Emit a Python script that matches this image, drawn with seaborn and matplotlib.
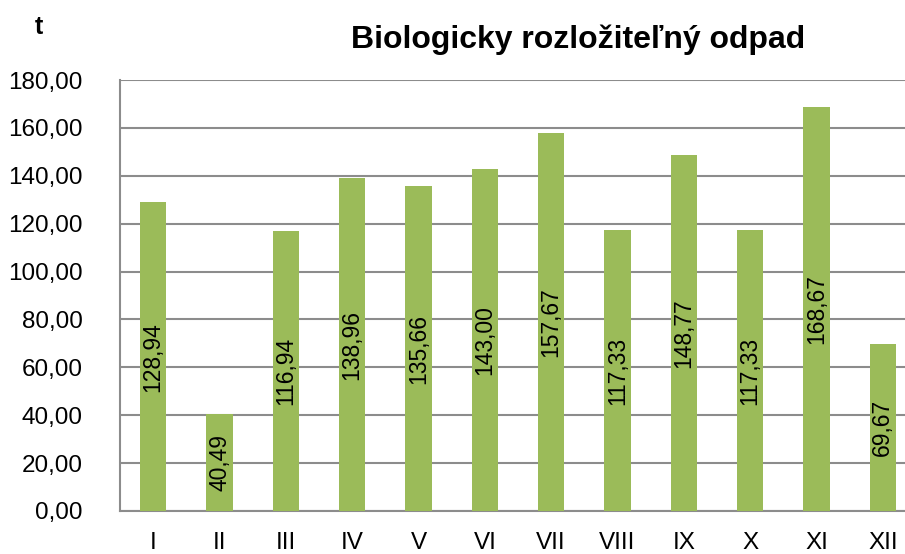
import pandas as pd
import matplotlib.pyplot as plt
import seaborn as sns

# monthly biodegradable waste (tonnes)
months = ["I", "II", "III", "IV", "V", "VI", "VII", "VIII", "IX", "X", "XI", "XII"]
tonnes = [128.94, 40.49, 116.94, 138.96, 135.66, 143.00, 157.67, 117.33, 148.77, 117.33, 168.67, 69.67]
y_ticks = [0, 20, 40, 60, 80, 100, 120, 140, 160, 180]

df = pd.DataFrame({"Mesiac": months, "t": tonnes})

sns.set_theme(style="white")
plt.rcParams["font.family"] = ["Liberation Sans", "DejaVu Sans"]
plt.rcParams["text.color"] = "black"

fig = plt.figure(figsize=(9.05, 5.54), dpi=100)
ax = fig.add_axes([120 / 905, 1 - 511 / 554, 796 / 905, 431 / 554])

sns.barplot(data=df, x="Mesiac", y="t", color="#9BBB59", saturation=1, width=0.4,
            linewidth=0, ax=ax, zorder=3)

# value labels, rotated, in the middle of each bar
for i, v in enumerate(tonnes):
    ax.text(i, v / 2, f"{v:.2f}".replace(".", ","), rotation=90, ha="center", va="center",
            fontsize=16.5, color="black", zorder=4)

ax.set_ylim(0, 180)
ax.set_yticks(y_ticks)
ax.set_yticklabels([f"{t:.2f}".replace(".", ",") for t in y_ticks])
ax.yaxis.grid(True, color="#8c8c8c", linewidth=1.5, zorder=0)
ax.set_xlabel("")
ax.set_ylabel("")
ax.tick_params(axis="y", length=0, pad=27, labelsize=17.5, colors="black")
ax.tick_params(axis="x", length=0, pad=15, labelsize=17.5, colors="black")

for side in ["top", "right"]:
    ax.spines[side].set_visible(False)
for side in ["left", "bottom"]:
    ax.spines[side].set_color("#8c8c8c")
    ax.spines[side].set_linewidth(1.5)

fig.text(578 / 905, 1 - 40 / 554, "Biologicky rozložiteľný odpad", ha="center", va="center",
         fontsize=23, fontweight="bold", color="black")
fig.text(39 / 905, 1 - 27 / 554, "t", ha="center", va="center", fontsize=18,
         fontweight="bold", color="black")

plt.savefig("out.png", dpi=100)
plt.close()
